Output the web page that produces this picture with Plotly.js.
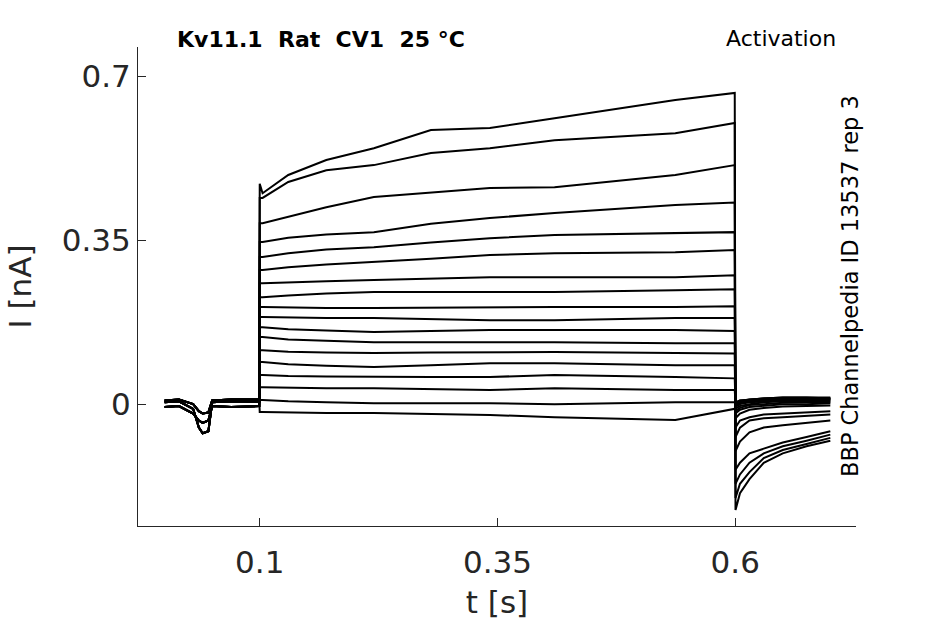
<!DOCTYPE html>
<html>
<head>
<meta charset="utf-8">
<script src="https://cdn.plot.ly/plotly-3.0.1.min.js"></script>
<style>
  body { margin: 0; background: #fff; }
  #plot { width: 945px; height: 624px; }
</style>
</head>
<body>
<div id="plot"></div>
<script>
// time points [s]
var preT  = [0, 0.015, 0.03, 0.036, 0.04, 0.046, 0.05, 0.07, 0.0995];
var stepT = [0.1, 0.103, 0.13, 0.17, 0.22, 0.28, 0.342, 0.41, 0.537, 0.5995];
var tailT = [0.6003, 0.605, 0.615, 0.63, 0.65, 0.675, 0.7];

// baseline before the step [nA]
var baseA = [0.004, 0.006, -0.01, -0.05, -0.062, -0.058, 0.004, 0.006, 0.005];
var baseB = [-0.006, -0.004, -0.02, -0.035, -0.04, -0.035, -0.004, -0.006, -0.004];
var baseC = [0.008, 0.01, 0.0, -0.015, -0.02, -0.018, 0.008, 0.01, 0.01];

// current during the step, one row per sweep [nA]
var stepI = [
  [0.47, 0.45, 0.489, 0.521, 0.546, 0.585, 0.589, 0.610, 0.649, 0.664],
  [0.44, 0.44, 0.474, 0.499, 0.510, 0.536, 0.546, 0.563, 0.578, 0.600],
  [0.386, 0.386, 0.40, 0.42, 0.442, 0.452, 0.461, 0.463, 0.489, 0.510],
  [0.346, 0.346, 0.355, 0.362, 0.367, 0.385, 0.397, 0.408, 0.425, 0.430],
  [0.314, 0.314, 0.322, 0.33, 0.335, 0.345, 0.354, 0.361, 0.365, 0.367],
  [0.286, 0.286, 0.292, 0.298, 0.303, 0.31, 0.318, 0.322, 0.324, 0.329],
  [0.258, 0.258, 0.26, 0.262, 0.265, 0.268, 0.271, 0.271, 0.271, 0.275],
  [0.228, 0.228, 0.232, 0.236, 0.239, 0.239, 0.239, 0.239, 0.243, 0.245],
  [0.207, 0.207, 0.206, 0.205, 0.205, 0.206, 0.207, 0.207, 0.207, 0.209],
  [0.186, 0.186, 0.185, 0.184, 0.184, 0.182, 0.179, 0.179, 0.184, 0.184],
  [0.164, 0.164, 0.16, 0.157, 0.154, 0.156, 0.158, 0.158, 0.158, 0.156],
  [0.143, 0.143, 0.138, 0.135, 0.132, 0.132, 0.132, 0.132, 0.130, 0.130],
  [0.115, 0.115, 0.112, 0.11, 0.109, 0.11, 0.111, 0.111, 0.109, 0.108],
  [0.09, 0.09, 0.085, 0.082, 0.079, 0.083, 0.087, 0.087, 0.083, 0.083],
  [0.062, 0.062, 0.06, 0.059, 0.058, 0.058, 0.058, 0.062, 0.058, 0.055],
  [0.036, 0.036, 0.035, 0.034, 0.034, 0.032, 0.030, 0.034, 0.030, 0.030],
  [0.009, 0.009, 0.006, 0.004, 0.002, 0.002, 0.002, 0.0, 0.004, 0.004],
  [-0.017, -0.017, -0.018, -0.019, -0.019, -0.021, -0.023, -0.028, -0.034, -0.01]
];

// tail current after the step [nA]
var tailI = [
  [-0.226, -0.19, -0.16, -0.125, -0.105, -0.09, -0.078],
  [-0.2, -0.17, -0.145, -0.115, -0.098, -0.085, -0.072],
  [-0.17, -0.15, -0.125, -0.105, -0.09, -0.078, -0.065],
  [-0.14, -0.125, -0.105, -0.095, -0.082, -0.07, -0.058],
  [-0.1, -0.08, -0.06, -0.05, -0.045, -0.04, -0.035],
  [-0.07, -0.05, -0.035, -0.03, -0.028, -0.025, -0.022],
  [-0.05, -0.035, -0.028, -0.022, -0.02, -0.018, -0.015],
  [-0.03, -0.02, -0.012, -0.008, -0.005, -0.004, -0.003],
  [-0.02, -0.012, -0.006, -0.003, 0.0, 0.0, 0.002],
  [-0.015, -0.008, -0.002, 0.0, 0.003, 0.004, 0.004],
  [-0.01, -0.004, 0.0, 0.004, 0.006, 0.006, 0.006],
  [-0.006, 0.0, 0.004, 0.006, 0.008, 0.008, 0.008],
  [-0.004, 0.002, 0.006, 0.008, 0.01, 0.01, 0.01],
  [-0.002, 0.004, 0.008, 0.01, 0.012, 0.012, 0.01],
  [0.0, 0.006, 0.01, 0.012, 0.012, 0.012, 0.012],
  [0.002, 0.008, 0.01, 0.012, 0.014, 0.014, 0.012],
  [0.004, 0.008, 0.01, 0.012, 0.014, 0.014, 0.014],
  [0.002, 0.006, 0.008, 0.01, 0.012, 0.012, 0.012]
];

var bases = [baseA, baseB, baseC];
var xTicks = [0.1, 0.35, 0.6];
var xTickText = ["0.1", "0.35", "0.6"];
var yTicks = [0, 0.35, 0.7];
var yTickText = ["0", "0.35", "0.7"];

var traces = [];
for (var i = 0; i < stepI.length; i++) {
  traces.push({
    x: preT.concat(stepT, tailT),
    y: bases[i % 3].concat(stepI[i], tailI[i]),
    type: "scatter",
    mode: "lines",
    line: {color: "#000000", width: 2},
    hoverinfo: "skip"
  });
}

var ink = "#262626";
var layout = {
  width: 945,
  height: 624,
  margin: {l: 138, r: 89, t: 47, b: 98},
  paper_bgcolor: "#ffffff",
  plot_bgcolor: "#ffffff",
  showlegend: false,
  font: {family: "DejaVu Sans", color: ink},
  xaxis: {
    range: [-0.028, 0.727],
    tickvals: xTicks, ticktext: xTickText,
    ticks: "inside", ticklen: 8, tickwidth: 1, tickcolor: ink,
    ticklabelstandoff: 9,
    showline: true, linecolor: ink, linewidth: 1,
    showgrid: false, zeroline: false,
    tickfont: {family: "DejaVu Sans", size: 31, color: ink},
    title: {text: "t [s]", font: {family: "DejaVu Sans", size: 31, color: ink}, standoff: 12}
  },
  yaxis: {
    range: [-0.26, 0.762],
    tickvals: yTicks, ticktext: yTickText,
    ticks: "inside", ticklen: 8, tickwidth: 1, tickcolor: ink,
    showline: true, linecolor: ink, linewidth: 1,
    showgrid: false, zeroline: false,
    tickfont: {family: "DejaVu Sans", size: 31, color: ink},
    title: {text: "I [nA]", font: {family: "DejaVu Sans", size: 31, color: ink}, standoff: 20}
  },
  annotations: [
    {text: "<b>Kv11.1  Rat  CV1  25 °C</b>", xref: "paper", yref: "paper",
     x: 0.0515, y: 1.015, xanchor: "left", yanchor: "middle", showarrow: false,
     font: {family: "DejaVu Sans", size: 22, color: "#000000"}},
    {text: "Activation", xref: "paper", yref: "paper",
     x: 0.975, y: 1.017, xanchor: "right", yanchor: "middle", showarrow: false,
     font: {family: "DejaVu Sans", size: 22, color: "#000000"}},
    {text: "BBP Channelpedia ID 13537 rep 3", xref: "paper", yref: "paper",
     x: 0.9916, y: 0.501, xanchor: "center", yanchor: "middle", showarrow: false,
     textangle: -90,
     font: {family: "DejaVu Sans", size: 22.5, color: "#000000"}}
  ]
};

Plotly.newPlot("plot", traces, layout, {displayModeBar: false, staticPlot: true});
</script>
</body>
</html>
